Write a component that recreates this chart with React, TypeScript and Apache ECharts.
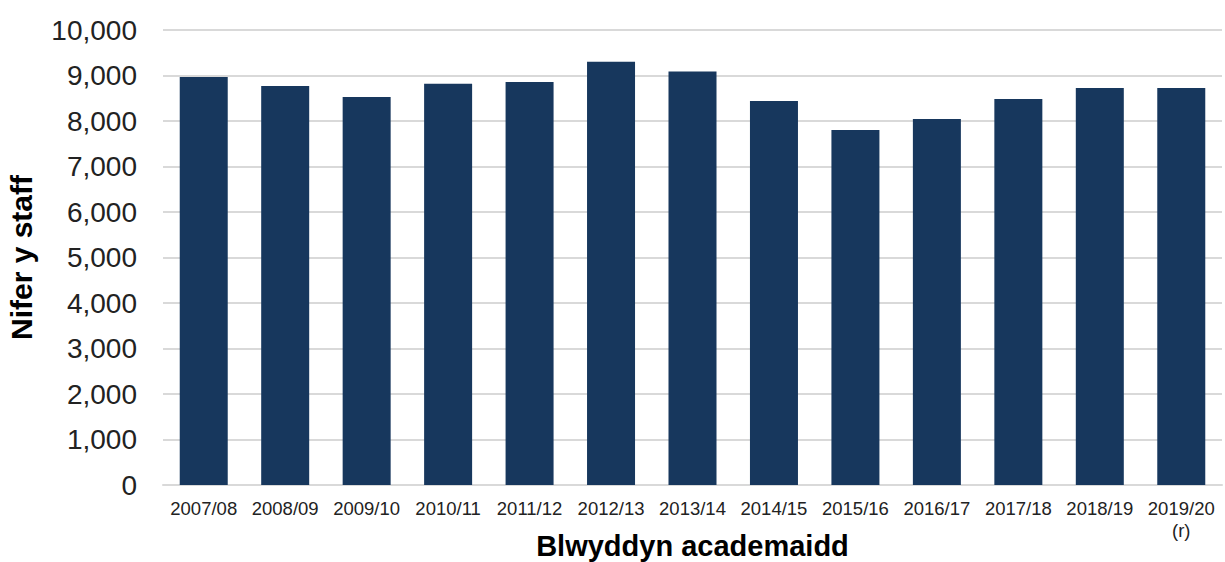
import React, { useEffect, useRef } from "react";
import * as echarts from "echarts";

const categories = [
  "2007/08", "2008/09", "2009/10", "2010/11", "2011/12", "2012/13", "2013/14",
  "2014/15", "2015/16", "2016/17", "2017/18", "2018/19", "2019/20\n(r)",
];
const staffCounts = [8965, 8770, 8530, 8820, 8855, 9300, 9090, 8440, 7800, 8045, 8485, 8725, 8725];
const yAxisTitle = "Nifer y staff";
const xAxisTitle = "Blwyddyn academaidd";

export default function App() {
  const ref = useRef<HTMLDivElement>(null);
  useEffect(() => {
    if (!ref.current) return;
    const chart = echarts.init(ref.current, undefined, { renderer: "svg" });
    const font = "Liberation Sans, Arial, sans-serif";
    chart.setOption({
      animation: false,
      backgroundColor: "#ffffff",
      grid: { left: 163, right: 3, top: 30, bottom: 77, containLabel: false, outerBoundsMode: "none" },
      xAxis: {
        type: "category",
        data: categories,
        name: xAxisTitle,
        nameLocation: "middle",
        nameGap: 46,
        nameMoveOverlap: false,
        nameTextStyle: { fontFamily: font, fontSize: 29, fontWeight: "bold", color: "#000" },
        axisLine: { lineStyle: { color: "#d9d9d9", width: 2 } },
        axisTick: { show: false },
        axisLabel: {
          fontFamily: font, fontSize: 18.5, color: "#222", margin: 12, interval: 0, lineHeight: 22,
        },
      },
      yAxis: {
        type: "value",
        min: 0,
        max: 10000,
        interval: 1000,
        name: yAxisTitle,
        nameLocation: "middle",
        nameGap: 127,
        nameMoveOverlap: false,
        nameTextStyle: { fontFamily: font, fontSize: 30, fontWeight: "bold", color: "#000" },
        axisLine: { show: false },
        axisTick: { show: false },
        splitLine: { lineStyle: { color: "#d9d9d9", width: 2 } },
        axisLabel: {
          fontFamily: font, fontSize: 28, color: "#222", margin: 26,
          formatter: (v: number) => v.toLocaleString("en-US"),
        },
      },
      series: [
        {
          type: "bar",
          data: staffCounts,
          barWidth: 48,
          itemStyle: { color: "#17375d" },
        },
      ],
    });
    return () => chart.dispose();
  }, []);
  return (
    <div
      ref={ref}
      style={{ position: "fixed", left: 0, top: 0, width: 1225, height: 562, background: "#fff" }}
    />
  );
}
